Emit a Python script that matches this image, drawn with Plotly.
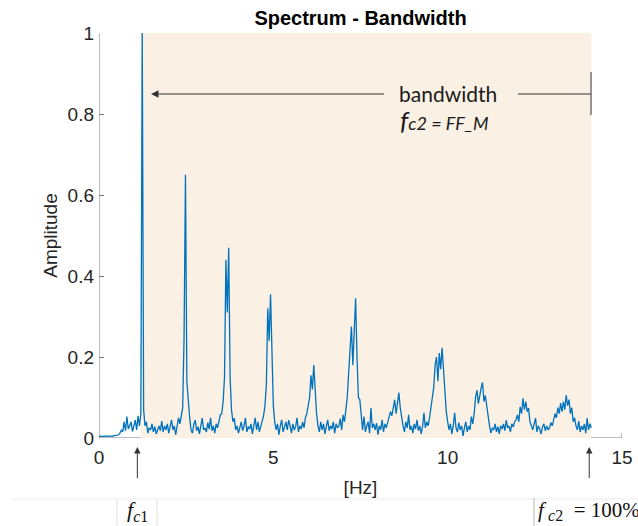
import plotly.graph_objects as go

# Amplitude spectrum, one value per frequency bin (bin width df, starting at 0 Hz)
df = 0.04
amp = [
    # 0.00 - 0.56 Hz
    0.004, 0.004, 0.004, 0.004, 0.004, 0.004, 0.005, 0.005, 0.005, 0.005,
    0.005, 0.006, 0.006, 0.007, 0.008,
    # 0.60 - 1.16 Hz
    0.012, 0.020, 0.015, 0.040, 0.018, 0.053, 0.022, 0.030, 0.040, 0.016,
    0.028, 0.044, 0.020, 0.055, 0.030,
    # 1.20 - 1.28 Hz (fundamental)
    0.060, 1.000, 0.070,
    # 1.32 - 2.32 Hz
    0.030, 0.040, 0.012, 0.025, 0.020, 0.035, 0.015, 0.028, 0.010, 0.022,
    0.030, 0.018, 0.042, 0.015, 0.030, 0.020, 0.035, 0.012, 0.025, 0.045,
    0.020, 0.030, 0.008, 0.028, 0.050, 0.035,
    # 2.36 - 2.60 Hz
    0.060, 0.075, 0.250, 0.650, 0.140, 0.085, 0.050,
    # 2.64 - 3.44 Hz
    0.020, 0.012, 0.035, 0.044, 0.018, 0.028, 0.010, 0.030, 0.049, 0.020,
    0.025, 0.015, 0.038, 0.022, 0.050, 0.018, 0.030, 0.012, 0.035, 0.025,
    0.045,
    # 3.48 - 3.84 Hz
    0.057, 0.060, 0.090, 0.150, 0.440, 0.310, 0.470, 0.150, 0.070, 0.040,
    # 3.88 - 4.68 Hz
    0.049, 0.020, 0.030, 0.012, 0.025, 0.040, 0.018, 0.030, 0.050, 0.015,
    0.028, 0.022, 0.035, 0.010, 0.030, 0.050, 0.020, 0.040, 0.015, 0.030,
    0.045,
    # 4.72 - 5.04 Hz
    0.055, 0.080, 0.130, 0.320, 0.240, 0.355, 0.180, 0.080, 0.040,
    # 5.08 - 5.92 Hz
    0.020, 0.035, 0.008, 0.030, 0.045, 0.015, 0.025, 0.040, 0.020, 0.044,
    0.030, 0.012, 0.035, 0.020, 0.028, 0.050, 0.015, 0.030, 0.022, 0.040,
    0.025, 0.050,
    # 5.96 - 6.24 Hz
    0.060, 0.085, 0.100, 0.155, 0.120, 0.180, 0.100, 0.060,
    # 6.28 - 7.04 Hz
    0.030, 0.015, 0.040, 0.020, 0.035, 0.010, 0.028, 0.045, 0.018, 0.030,
    0.022, 0.040, 0.012, 0.035, 0.025, 0.030, 0.048, 0.020, 0.057, 0.040,
    # 7.08 - 7.52 Hz
    0.070, 0.100, 0.160, 0.220, 0.275, 0.180, 0.270, 0.345, 0.200, 0.100,
    0.095, 0.050,
    # 7.56 - 8.28 Hz
    0.020, 0.053, 0.015, 0.030, 0.040, 0.012, 0.074, 0.025, 0.035, 0.020,
    0.037, 0.008, 0.030, 0.020, 0.045, 0.015, 0.035, 0.025, 0.040,
    # 8.32 - 8.68 Hz
    0.050, 0.065, 0.055, 0.080, 0.094, 0.060, 0.085, 0.112, 0.075, 0.050,
    # 8.72 - 9.44 Hz
    0.030, 0.015, 0.040, 0.025, 0.057, 0.020, 0.030, 0.012, 0.035, 0.022,
    0.045, 0.018, 0.030, 0.010, 0.028, 0.062, 0.025, 0.040, 0.030,
    # 9.48 - 10.00 Hz
    0.050, 0.070, 0.100, 0.125, 0.180, 0.200, 0.140, 0.210, 0.170, 0.223,
    0.160, 0.100, 0.065, 0.040,
    # 10.04 - 10.72 Hz
    0.020, 0.035, 0.010, 0.030, 0.062, 0.025, 0.015, 0.038, 0.020, 0.030,
    0.005, 0.025, 0.040, 0.015, 0.030, 0.020, 0.053, 0.035,
    # 10.76 - 11.16 Hz
    0.060, 0.100, 0.118, 0.085, 0.110, 0.123, 0.137, 0.090, 0.105, 0.077,
    0.050,
    # 11.20 - 11.92 Hz
    0.030, 0.012, 0.025, 0.020, 0.035, 0.015, 0.028, 0.010, 0.030, 0.022,
    0.035, 0.018, 0.044, 0.025, 0.030, 0.015, 0.035, 0.027, 0.040,
    # 11.96 - 12.40 Hz
    0.045, 0.057, 0.040, 0.077, 0.060, 0.098, 0.070, 0.090, 0.065, 0.074,
    0.040, 0.030,
    # 12.44 - 13.00 Hz
    0.020, 0.035, 0.049, 0.015, 0.030, 0.022, 0.010, 0.028, 0.035, 0.018,
    0.030, 0.020, 0.025, 0.038, 0.030,
    # 13.04 - 13.68 Hz
    0.045, 0.060, 0.050, 0.075, 0.060, 0.086, 0.065, 0.090, 0.070, 0.106,
    0.080, 0.095, 0.060, 0.075, 0.040, 0.050, 0.030,
    # 13.72 - 14.12 Hz
    0.020, 0.042, 0.015, 0.030, 0.020, 0.035, 0.012, 0.049, 0.020, 0.035,
    0.025,
]
freq = [round(k * df, 2) for k in range(len(amp))]

# Pass band (shaded) and cut-off markers, in Hz
band_lo, band_hi = 1.2, 14.12
fc1_mark, fc2_mark = 1.1, 14.06

x_ticks = [0, 5, 10, 15]
x_labels = ["0", "5", "10", "15"]
y_ticks = [0, 0.2, 0.4, 0.6, 0.8, 1]
y_labels = ["0", "0.2", "0.4", "0.6", "0.8", "1"]

# Page / plot-area geometry (pixels)
W, H = 638, 526
ML, MR, MT, MB = 99, 16, 33, 88
PW, PH = W - ML - MR, H - MT - MB
Y0 = MT + PH  # pixel row of the x axis


def pxx(p):
    """pixel column -> paper x"""
    return (p - ML) / PW


def pxy(p):
    """pixel row -> paper y"""
    return (Y0 - p) / PH


AX = "#7a7a7a"
TXT = "#262626"
SANS = "Liberation Sans, Arial, Helvetica, sans-serif"
CAL = "Lato, Open Sans, sans-serif"
SERIF = "Liberation Serif, Times New Roman, serif"
SUB = '<sub><span style="font-size:16px"><i>c</i>{}</span></sub>'

fig = go.Figure()
fig.add_trace(go.Scatter(
    x=freq, y=amp, mode="lines",
    line=dict(color="#0072BD", width=1.3),
    hoverinfo="skip", showlegend=False,
))

shapes = [
    # pass band
    dict(type="rect", xref="x", yref="y", x0=band_lo, x1=band_hi, y0=0, y1=1,
         fillcolor="#FBF0E4", line=dict(width=0), layer="below"),
    # axis lines (hidden under the pass band)
    dict(type="line", xref="x", yref="y", x0=0, x1=0, y0=0, y1=1,
         line=dict(color=AX, width=1), layer="below"),
    dict(type="line", xref="x", yref="y", x0=0, x1=band_lo, y0=0, y1=0,
         line=dict(color=AX, width=1), layer="below"),
    dict(type="line", xref="x", yref="y", x0=band_hi, x1=15, y0=0, y1=0,
         line=dict(color=AX, width=1), layer="below"),
    dict(type="line", xref="x", yref="y", x0=15, x1=15, y0=0, y1=5 / PH,
         line=dict(color=AX, width=1), layer="below"),
    # bandwidth bracket, right part
    dict(type="line", xref="paper", yref="paper", x0=pxx(518), x1=pxx(591),
         y0=pxy(94), y1=pxy(94), line=dict(color="#333333", width=1)),
    dict(type="line", xref="paper", yref="paper", x0=pxx(591), x1=pxx(591),
         y0=pxy(72), y1=pxy(115), line=dict(color="#333333", width=1)),
    # label frames below the axis
    dict(type="line", xref="paper", yref="paper", x0=pxx(12), x1=pxx(640),
         y0=pxy(499), y1=pxy(499), line=dict(color="#ececec", width=1)),
    dict(type="line", xref="paper", yref="paper", x0=pxx(117), x1=pxx(117),
         y0=pxy(499), y1=pxy(530), line=dict(color="#e2e2e2", width=1)),
    dict(type="line", xref="paper", yref="paper", x0=pxx(157), x1=pxx(157),
         y0=pxy(499), y1=pxy(530), line=dict(color="#e2e2e2", width=1)),
    dict(type="line", xref="paper", yref="paper", x0=pxx(534), x1=pxx(534),
         y0=pxy(498), y1=pxy(530), line=dict(color="#b5b5b5", width=1)),
]

annotations = [
    # bandwidth arrow, left part
    dict(xref="paper", yref="paper", x=pxx(151), y=pxy(94), text=" ",
         showarrow=True, axref="pixel", ayref="pixel", ax=388 - 151, ay=0,
         arrowhead=2, arrowsize=1.5, arrowwidth=1, arrowcolor="#333333",
         standoff=0, startstandoff=0),
    dict(xref="paper", yref="paper", x=pxx(448), y=pxy(94), text="bandwidth",
         showarrow=False, xanchor="center", yanchor="middle",
         font=dict(family=CAL, size=21, color="#1a1a1a")),
    dict(xref="paper", yref="paper", x=pxx(444), y=pxy(120),
         text='<i><span style="font-size:26px">f</span>c2 = FF_M</i>',
         showarrow=False, xanchor="center", yanchor="middle",
         font=dict(family=CAL, size=18, color="#1a1a1a")),
    # cut-off arrows
    dict(xref="x", yref="paper", x=fc1_mark, y=pxy(447), text=" ",
         showarrow=True, ax=0, ay=43, arrowhead=2, arrowsize=1.3,
         arrowwidth=1, arrowcolor="#333333", standoff=0, startstandoff=0),
    dict(xref="x", yref="paper", x=fc2_mark, y=pxy(447), text=" ",
         showarrow=True, ax=0, ay=43, arrowhead=2, arrowsize=1.3,
         arrowwidth=1, arrowcolor="#333333", standoff=0, startstandoff=0),
    dict(xref="paper", yref="paper", x=pxx(137), y=pxy(511),
         text="<i>f</i>" + SUB.format("1"),
         showarrow=False, xanchor="center", yanchor="middle",
         font=dict(family=SERIF, size=22, color="#111111")),
    dict(xref="paper", yref="paper", x=pxx(536), y=pxy(511),
         text="<i>f</i>\u2009" + SUB.format("2") + "\u2002= 100%",
         showarrow=False, xanchor="left", yanchor="middle",
         font=dict(family=SERIF, size=21, color="#111111")),
]

fig.update_layout(
    width=W, height=H,
    margin=dict(l=ML, r=MR, t=MT, b=MB, pad=0, autoexpand=False),
    paper_bgcolor="white", plot_bgcolor="white",
    title=dict(text="<b>Spectrum - Bandwidth</b>", x=0.5, xref="paper",
               y=1 - 18 / H, yref="container", xanchor="center", yanchor="middle",
               font=dict(family=SANS, size=20, color="black")),
    font=dict(family=SANS, size=19, color=TXT),
    shapes=shapes,
    annotations=annotations,
    xaxis=dict(range=[0, 15], tickvals=x_ticks, ticktext=x_labels,
               ticks="", showline=False, showgrid=False, zeroline=False,
               automargin=False, ticklabelstandoff=6,
               title=dict(text="[Hz]", standoff=13,
                          font=dict(family=SANS, size=19, color=TXT)),
               fixedrange=True),
    yaxis=dict(range=[0, 1], tickvals=y_ticks, ticktext=y_labels,
               ticks="inside", ticklen=5, tickcolor=AX, tickwidth=1,
               showline=False, showgrid=False, zeroline=False,
               automargin=False, ticklabelstandoff=4,
               title=dict(text="Amplitude", standoff=4,
                          font=dict(family=SANS, size=19, color=TXT)),
               fixedrange=True),
)

fig.write_html("out.html")
